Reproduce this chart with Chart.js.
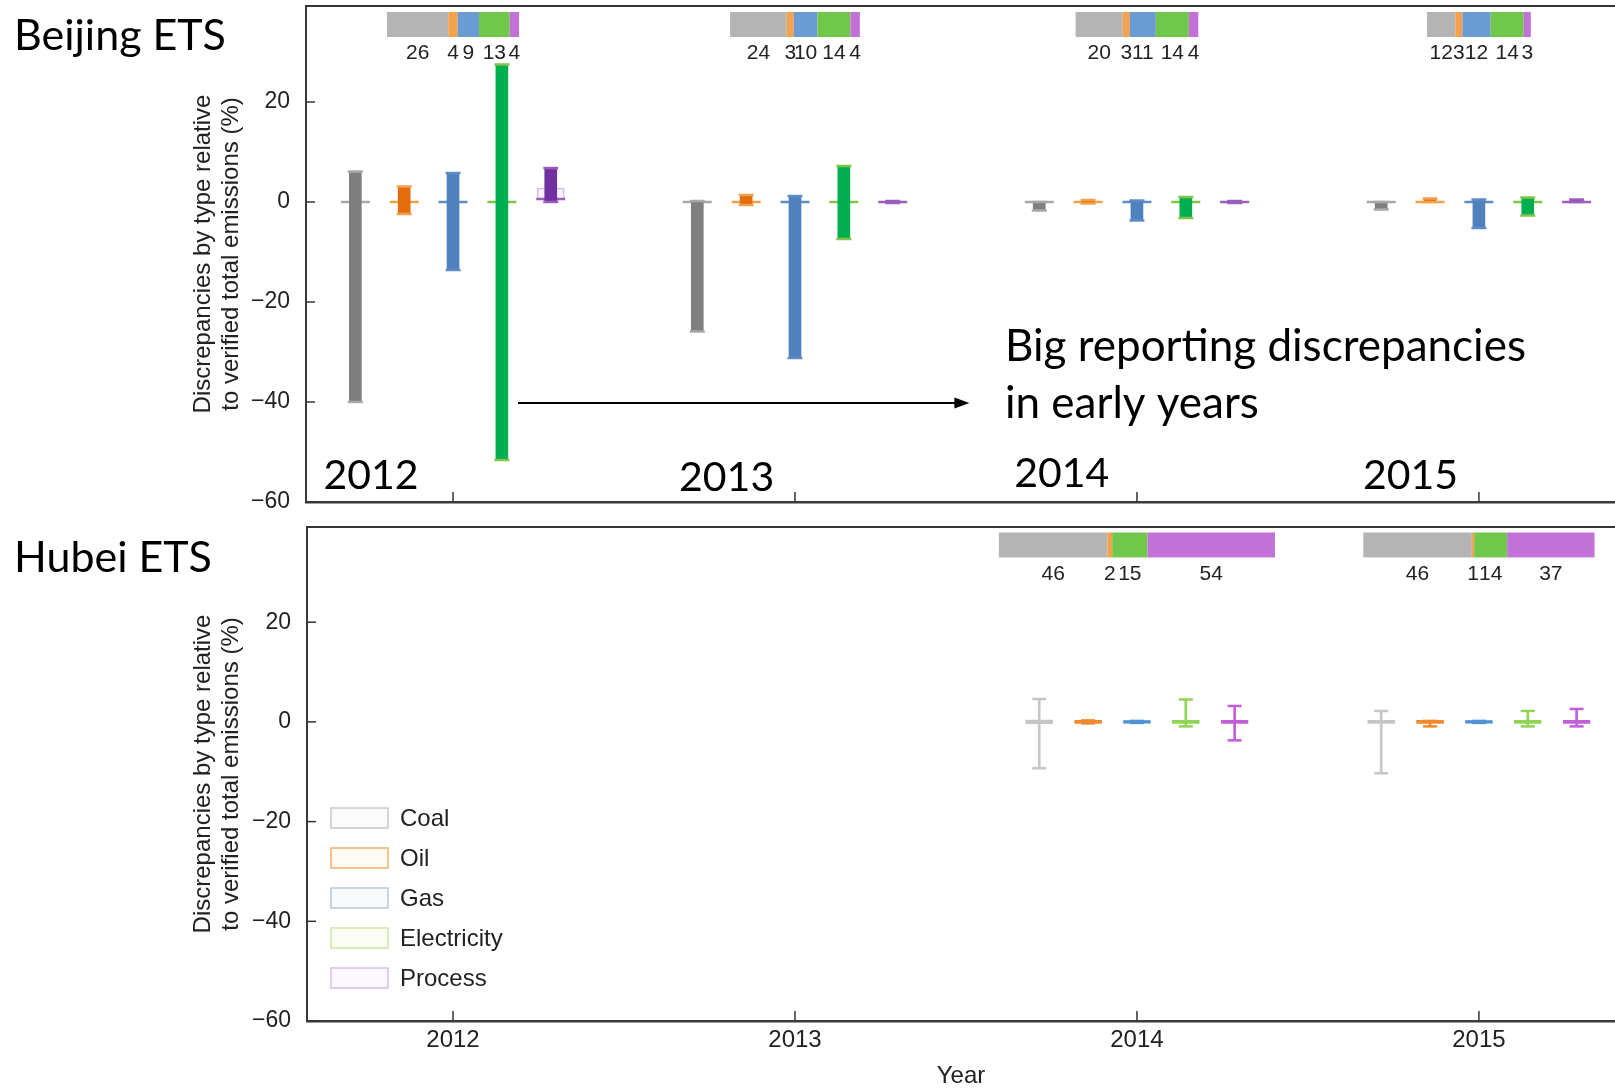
<!DOCTYPE html>
<html>
<head>
<meta charset="utf-8">
<title>Reporting discrepancies by type</title>
<script src="https://cdn.jsdelivr.net/npm/chart.js@4.4.1/dist/chart.umd.min.js"></script>
<style>
  html, body { margin: 0; padding: 0; background: #fff; }
  body { width: 1615px; height: 1091px; overflow: hidden; position: relative; }
  .panel { position: absolute; left: 0; width: 1615px; }
  .title { position: absolute; left: 14px; font-family: Lato, sans-serif; font-size: 43px; line-height: 44px; color: #000; }
</style>
</head>
<body>
<div class="panel" style="top:0;height:512px"><canvas id="beijing" width="1615" height="512"></canvas></div>
<div class="panel" style="top:512px;height:579px"><canvas id="hubei" width="1615" height="579"></canvas></div>
<div class="title" style="top:12px">Beijing ETS</div>
<div class="title" style="top:534px">Hubei ETS</div>
<script>
// Data
const years = [2012, 2013, 2014, 2015];
const fuelTypes = ['Coal', 'Oil', 'Gas', 'Electricity', 'Process'];
const yTicks = [-60, -40, -20, 0, 20];

// Beijing ETS: one row per type, one column per year
const bjLow = [
  [-40, -25.9, -1.7, -1.5],
  [-2.4, -0.6, -0.3, 0],
  [-13.6, -31.2, -3.7, -5.2],
  [-51.6, -7.4, -3.2, -2.7],
  [0, -0.2, -0.2, 0]
];
const bjHigh = [
  [6.1, 0.2, 0, 0],
  [3.1, 1.4, 0.4, 0.7],
  [5.8, 1.2, 0.3, 0.5],
  [27.5, 7.2, 1.0, 0.9],
  [6.8, 0.2, 0.2, 0.5]
];
const bjQ1 = [[null, null, null, null], [null, null, null, null], [null, null, null, null], [null, null, null, null], [0.4, null, null, null]];
const bjQ3 = [[null, null, null, null], [null, null, null, null], [null, null, null, null], [null, null, null, null], [2.8, null, null, null]];
const bjMedian = [
  [0, 0, 0, 0],
  [0, 0, 0, 0],
  [0, 0, 0, 0],
  [0, 0, 0, 0],
  [0.6, 0, 0, 0]
];
const bjCounts = [
  [26, 24, 20, 12],
  [4, 3, 3, 3],
  [9, 10, 11, 12],
  [13, 14, 14, 14],
  [4, 4, 4, 3]
];

// Hubei ETS: no reports before 2014
const hbLow = [
  [null, null, -9.3, -10.3],
  [null, null, -0.3, -0.9],
  [null, null, -0.2, -0.2],
  [null, null, -0.9, -0.9],
  [null, null, -3.7, -0.9]
];
const hbHigh = [
  [null, null, 4.6, 2.2],
  [null, null, 0.3, 0.2],
  [null, null, 0.2, 0.2],
  [null, null, 4.5, 2.2],
  [null, null, 3.2, 2.6]
];
const hbQ1 = [
  [null, null, -0.4, -0.3],
  [null, null, -0.3, -0.3],
  [null, null, -0.25, -0.25],
  [null, null, -0.3, -0.3],
  [null, null, -0.3, -0.3]
];
const hbQ3 = [
  [null, null, 0.4, 0.3],
  [null, null, 0.3, 0.3],
  [null, null, 0.25, 0.25],
  [null, null, 0.3, 0.3],
  [null, null, 0.3, 0.3]
];
const hbMedian = [
  [null, null, 0, 0],
  [null, null, 0, 0],
  [null, null, 0, 0],
  [null, null, 0, 0],
  [null, null, 0, 0]
];
const hbCounts = [
  [null, null, 46, 46],
  [null, null, 2, 1],
  [null, null, 0, 0],
  [null, null, 15, 14],
  [null, null, 54, 37]
];

// Annotations (data units)
const yearLabelX = [2011.76, 2012.80, 2013.78, 2014.80];
const yearLabelY = [-54.7, -55.1, -54.3, -54.7];
const noteLines = ['Big reporting discrepancies', 'in early years'];
const noteX = 2013.614;
const noteY = [-29.0, -40.4];
const arrowX = [2012.19, 2013.51];
const arrowY = -40.2;

// Styles
const typeOffset = [-2 / 7, -1 / 7, 0, 1 / 7, 2 / 7];
const countWidth = 0.0069;      // years of axis per reporting firm in the top strip
const stripBand = [33, 38];
const stripLabelY = 29.7;
const strongColors = ['#7f7f7f', '#e46c0a', '#4f81bd', '#00b050', '#7030a0'];
const lineColors = ['#a8a8a8', '#f2a04c', '#5f8cc4', '#80c44a', '#9d5cc0'];
const stripColors = ['#b4b4b4', '#f4a24e', '#6b9bd3', '#70c74b', '#c271d6'];
const hubeiColors = ['#c6c6c6', '#f08a2c', '#4f92d6', '#8fd455', '#c25fd8'];
const hubeiFill = ['#e4e4e4', '#f7b57a', '#9cc2ea', '#c2ea9c', '#dca8ea'];
const legendLine = ['#c9c9c9', '#f4b06c', '#b9c7d9', '#cde7a4', '#d6bfe4'];
const legendFill = ['#fbfbfb', '#fffaf3', '#f7fafd', '#fbfdf4', '#fcf8fd'];

Chart.defaults.font.family = '"Liberation Sans", Arial, sans-serif';
Chart.defaults.color = '#222';

function rangeData(lo, hi, t) {
  return years.map((yr, j) => lo[t][j] == null ? null : { x: yr + typeOffset[t], y: [lo[t][j], hi[t][j]] }).filter(Boolean);
}
function pointData(vals, t) {
  return years.map((yr, j) => vals[t][j] == null ? null : { x: yr + typeOffset[t], y: vals[t][j] }).filter(Boolean);
}

function buildDatasets(p) {
  const sets = [];
  fuelTypes.forEach((name, t) => {
    sets.push({ type: 'bar', label: name + ' box', data: rangeData(p.q1, p.q3, t), grouped: false, barThickness: 27,
      backgroundColor: p.boxFill[t], borderColor: p.boxLine[t], borderWidth: 1.5, borderSkipped: false, order: 4 });
    sets.push({ type: 'scatter', label: name + ' median', data: pointData(p.median, t), pointStyle: 'line',
      pointRadius: p.medianHalf, pointBorderWidth: p.medianWidth, pointBorderColor: p.medianColor[t], order: 3 });
    sets.push({ type: 'bar', label: name, data: rangeData(p.low, p.high, t), grouped: false, barThickness: p.whiskerWidth,
      backgroundColor: p.whiskerColor[t], borderWidth: 0, order: 2 });
    sets.push({ type: 'scatter', label: name + ' caps', data: pointData(p.low, t).concat(pointData(p.high, t)), pointStyle: 'line',
      pointRadius: p.capHalf, pointBorderWidth: 2.5, pointBorderColor: p.capColor[t], order: 1 });
  });
  return sets;
}

// no label padding: the plot area is placed exactly
function noPad(s) {
  s.paddingTop = 0; s.paddingBottom = 0; s.paddingLeft = 0; s.paddingRight = 0;
}

function decorPlugin(p) {
  return {
    id: 'decor',
    afterDraw(chart) {
      const { ctx, chartArea: a, scales: { x, y } } = chart;
      ctx.save();
      // top frame and inward ticks
      ctx.strokeStyle = '#333';
      ctx.lineWidth = 2;
      ctx.beginPath(); ctx.moveTo(a.left, a.top); ctx.lineTo(a.right, a.top); ctx.stroke();
      ctx.lineWidth = 1.5;
      years.forEach(v => {
        const px = x.getPixelForValue(v);
        ctx.beginPath(); ctx.moveTo(px, a.bottom); ctx.lineTo(px, a.bottom - 10); ctx.stroke();
      });
      yTicks.forEach(v => {
        const py = y.getPixelForValue(v);
        ctx.beginPath(); ctx.moveTo(a.left, py); ctx.lineTo(a.left + 9, py); ctx.stroke();
      });

      // composition strip above each year
      ctx.font = '21px "Liberation Sans", Arial, sans-serif';
      ctx.textAlign = 'center';
      ctx.textBaseline = 'middle';
      ctx.fillStyle = '#222';
      const yTop = y.getPixelForValue(stripBand[1]);
      const yBot = y.getPixelForValue(stripBand[0]);
      const yLab = y.getPixelForValue(stripLabelY);
      years.forEach((yr, j) => {
        const counts = p.counts.map(row => row[j] || 0);
        const total = counts.reduce((s, c) => s + c, 0);
        if (!total) return;
        let cum = yr - total * countWidth / 2;
        counts.forEach((c, t) => {
          if (!c) return;
          const x0 = x.getPixelForValue(cum), x1 = x.getPixelForValue(cum + c * countWidth);
          ctx.fillStyle = stripColors[t];
          ctx.fillRect(x0, yTop, x1 - x0, yBot - yTop);
          ctx.fillStyle = '#222';
          ctx.fillText(String(c), (x0 + x1) / 2, yLab);
          cum += c * countWidth;
        });
      });

      if (p.notes) {
        ctx.fillStyle = '#000';
        ctx.font = '41px Lato, sans-serif';
        ctx.textAlign = 'center';
        years.forEach((yr, j) => ctx.fillText(String(yr), x.getPixelForValue(yearLabelX[j]), y.getPixelForValue(yearLabelY[j])));
        ctx.font = '44px Lato, sans-serif';
        ctx.textAlign = 'left';
        noteLines.forEach((s, i) => ctx.fillText(s, x.getPixelForValue(noteX), y.getPixelForValue(noteY[i])));
        const ax0 = x.getPixelForValue(arrowX[0]), ax1 = x.getPixelForValue(arrowX[1]), ay = y.getPixelForValue(arrowY);
        ctx.strokeStyle = '#000';
        ctx.lineWidth = 2;
        ctx.beginPath(); ctx.moveTo(ax0, ay); ctx.lineTo(ax1 - 12, ay); ctx.stroke();
        ctx.beginPath(); ctx.moveTo(ax1, ay); ctx.lineTo(ax1 - 15, ay - 5.5); ctx.lineTo(ax1 - 15, ay + 5.5); ctx.closePath(); ctx.fill();
      }

      if (p.legend) {
        ctx.font = '24px "Liberation Sans", Arial, sans-serif';
        ctx.textAlign = 'left';
        ctx.lineWidth = 1.5;
        fuelTypes.forEach((name, t) => {
          const cy = a.top + 291 + t * 40;
          ctx.fillStyle = legendFill[t];
          ctx.fillRect(a.left + 24, cy - 10, 57, 20);
          ctx.strokeStyle = legendLine[t];
          ctx.strokeRect(a.left + 24, cy - 10, 57, 20);
          ctx.fillStyle = '#222';
          ctx.fillText(name, a.left + 93, cy + 1);
        });
      }
      ctx.restore();
    }
  };
}

function makeChart(id, p) {
  return new Chart(document.getElementById(id), {
    type: 'bar',
    data: { datasets: buildDatasets(p) },
    options: {
      responsive: false,
      animation: false,
      events: [],
      layout: { autoPadding: false, padding: { top: p.padTop, left: 0, right: 0, bottom: 0 } },
      plugins: { legend: { display: false }, tooltip: { enabled: false } },
      scales: {
        x: {
          type: 'linear', offset: false, min: p.xMin, max: p.xMax,
          afterBuildTicks: s => { s.ticks = years.map(v => ({ value: v })); },
          afterFit: s => { s.height = p.xHeight; noPad(s); },
          grid: { display: false, drawTicks: false },
          border: { display: true, color: '#3a3a3a', width: 2.5 },
          ticks: { display: p.xLabels, padding: 5, font: { size: 24 }, callback: v => String(v) },
          title: { display: p.xLabels, text: 'Year', font: { size: 24 }, padding: { top: 0, bottom: 0 } }
        },
        y: {
          type: 'linear', min: -60, max: p.yMax, beginAtZero: false,
          afterBuildTicks: s => { s.ticks = yTicks.map(v => ({ value: v })); },
          afterFit: s => { s.width = p.yWidth; noPad(s); },
          grid: { display: false, drawTicks: false },
          border: { display: true, color: '#3a3a3a', width: 2 },
          ticks: { padding: 16, font: { size: 23 }, callback: v => v < 0 ? '\u2212' + Math.abs(v) : String(v) },
          title: {
            display: true,
            text: ['Discrepancies by type relative', 'to verified total emissions (%)'],
            font: { size: 24 }, padding: { top: 188.6, bottom: 0 }
          }
        }
      }
    },
    plugins: [decorPlugin(p)]
  });
}

makeChart('beijing', {
  low: bjLow, high: bjHigh, q1: bjQ1, q3: bjQ3, median: bjMedian, counts: bjCounts,
  whiskerWidth: 12, whiskerColor: strongColors, capColor: lineColors, capHalf: 7.5,
  medianColor: lineColors, medianHalf: 14.5, medianWidth: 2.5,
  boxFill: ['#fff', '#fff', '#fff', '#fff', 'rgba(250,240,252,0.9)'], boxLine: ['#ccc', '#ccc', '#ccc', '#ccc', '#d8b8e6'],
  padTop: 6, xHeight: 10, yWidth: 306, xMin: 2011.570, xMax: 2015.398, yMax: 39.2,
  xLabels: false, notes: true, legend: false
});

makeChart('hubei', {
  low: hbLow, high: hbHigh, q1: hbQ1, q3: hbQ3, median: hbMedian, counts: hbCounts,
  whiskerWidth: 2, whiskerColor: hubeiColors, capColor: hubeiColors, capHalf: 7,
  medianColor: hubeiColors, medianHalf: 13.5, medianWidth: 3,
  boxFill: hubeiFill, boxLine: hubeiColors,
  padTop: 15, xHeight: 70, yWidth: 307, xMin: 2011.573, xMax: 2015.398, yMax: 39.1,
  xLabels: true, notes: false, legend: true
});
</script>
</body>
</html>
